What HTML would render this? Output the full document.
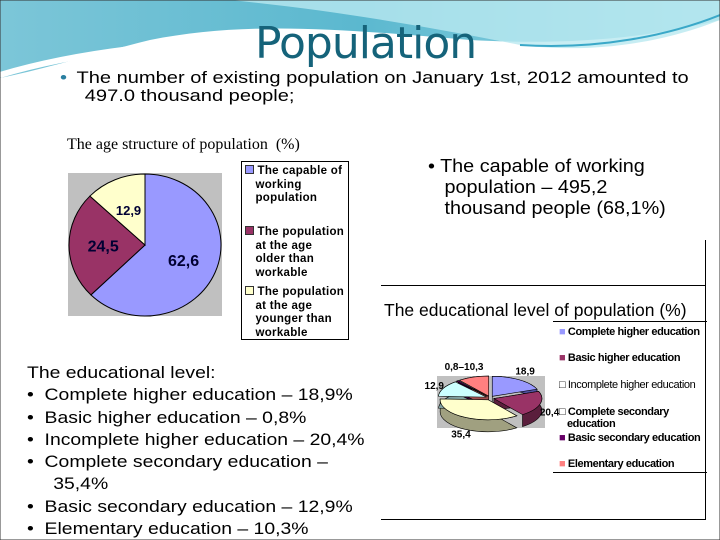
<!DOCTYPE html>
<html><head><meta charset="utf-8"><style>
body{margin:0;width:720px;height:540px;overflow:hidden;background:#fff;font-family:"Liberation Sans",Arial,sans-serif;position:relative}
.abs{position:absolute}
.lst{font-size:17px;line-height:22.3px;color:#000;transform-origin:0 0;transform:scaleX(1.14)}
</style></head><body>
<svg class="abs" style="left:0;top:0" width="720" height="540">
<defs><linearGradient id="hg" x1="0" x2="1" y1="0" y2="0"><stop offset="0" stop-color="#7cc6d8"/><stop offset="0.5" stop-color="#5bb8cf"/><stop offset="1" stop-color="#9ad9e6"/></linearGradient></defs>
<path d="M0 0H720V20C640 40 560 45 470 40C350 30 250 20 150 40C90 55 40 70 0 78Z" fill="url(#hg)"/>
<path d="M230 0C330 10 420 25 520 45C600 55 670 40 720 20V0Z" fill="#b9e8f0" opacity="0.8"/>
<path d="M0 75C100 45 250 30 480 45" stroke="#fff" stroke-width="6" fill="none"/>
<path d="M520 45C600 50 670 35 720 15" stroke="#3aa8c8" stroke-width="2" fill="none"/>
<rect x="0" y="0" width="720" height="540" fill="none" stroke="#333" stroke-width="1"/>
</svg>
<div class="abs" style="left:255px;top:18px;font-size:44px;color:#15637a;font-family:'DejaVu Sans','Liberation Sans',sans-serif;letter-spacing:-1px">Population</div>
<div class="abs" style="left:60px;top:69px;font-size:17px;line-height:18px;width:560px;white-space:nowrap;transform-origin:0 0;transform:scaleX(1.18)"><span style="color:#2a7fa0;margin-right:8px">•</span>The number of existing population on January 1st, 2012 amounted to<br><span style="padding-left:21px">497.0 thousand people;</span></div>

<div class="abs" style="left:67px;top:136px;font-family:'Liberation Serif',serif;font-size:16px">The age structure of population&nbsp; (%)</div>
<svg class="abs" id="age" style="left:0;top:0" width="720" height="540"></svg>
<div class="abs" style="left:241px;top:161px;width:108px;height:179px;border:1px solid #000;font-size:11.5px;font-weight:bold;line-height:13.5px;padding:3px 0 0 3px;box-sizing:border-box;letter-spacing:0.3px;white-space:nowrap">
<div style="height:61px"><span style="display:inline-block;width:7px;height:7px;background:#9999ff;border:1px solid #333"></span> The capable of<br>&nbsp;&nbsp;&nbsp;working<br>&nbsp;&nbsp;&nbsp;population</div>
<div style="height:60px"><span style="display:inline-block;width:7px;height:7px;background:#993366;border:1px solid #333"></span> The population<br>&nbsp;&nbsp;&nbsp;at the age<br>&nbsp;&nbsp;&nbsp;older than<br>&nbsp;&nbsp;&nbsp;workable</div>
<div><span style="display:inline-block;width:7px;height:7px;background:#ffffcc;border:1px solid #333"></span> The population<br>&nbsp;&nbsp;&nbsp;at the age<br>&nbsp;&nbsp;&nbsp;younger than<br>&nbsp;&nbsp;&nbsp;workable</div>
</div>

<div class="abs" style="left:428px;top:156px;font-size:18px;line-height:21px;white-space:nowrap;transform-origin:0 0;transform:scaleX(1.1)">• The capable of working<br>&nbsp;&nbsp;&nbsp;population – 495,2<br>&nbsp;&nbsp;&nbsp;thousand people (68,1%)</div>

<div class="abs" style="left:381px;top:285px;width:324px;height:233px;border-right:1px solid #000;border-bottom:1px solid #000;border-top:1px solid #000"></div>
<div class="abs" style="left:705px;top:240px;width:1px;height:46px;background:#000"></div>
<div class="abs" style="left:384px;top:300px;font-size:17.5px;white-space:nowrap">The educational level of population (%)</div>
<svg class="abs" id="edu" style="left:0;top:0" width="720" height="540"></svg>
<div class="abs" style="left:553px;top:321px;width:154px;height:150px;border-top:1px solid #000;border-bottom:1px solid #000;font-size:11px;line-height:12px;letter-spacing:-0.4px;font-weight:bold;white-space:nowrap">
<div class="abs" style="top:4px;left:6px"><span style="color:#9999ff">■</span> Complete higher education</div>
<div class="abs" style="top:30px;left:6px"><span style="color:#993366">■</span> Basic higher education</div>
<div class="abs" style="top:57px;left:6px;font-weight:normal">□ Incomplete higher education</div>
<div class="abs" style="top:84px;left:6px">□ Complete secondary<br>&nbsp;&nbsp;&nbsp;education</div>
<div class="abs" style="top:110px;left:6px"><span style="color:#660066">■</span> Basic secondary education</div>
<div class="abs" style="top:136px;left:6px"><span style="color:#ff8080">■</span> Elementary education</div>
</div>

<div class="abs lst" style="left:27px;top:362px;width:340px;white-space:nowrap">
The educational level:<br>
•&nbsp; Complete higher education – 18,9%<br>
•&nbsp; Basic higher education – 0,8%<br>
•&nbsp; Incomplete higher education – 20,4%<br>
•&nbsp; Complete secondary education –<br>
<span style="padding-left:23px">35,4%</span><br>
•&nbsp; Basic secondary education – 12,9%<br>
•&nbsp; Elementary education – 10,3%
</div>

<script>
const ageCategories=["Working","Older","Younger"];
const ageValues=[62.6,24.5,12.9];
const ageColors=["#9999ff","#993366","#ffffcc"];
const eduCategories=["Complete higher","Incomplete higher","Complete secondary","Basic secondary","Basic higher","Elementary"];
const eduValues=[18.9,20.4,35.4,12.9,0.8,10.3];
const eduColors=["#9999ff","#993366","#ffffcc","#ccffff","#660066","#ff8080"];
const eduSides=["#5050a0","#5a1e3c","#a0a080","#80a0a0","#330033","#a05050"];
const NS="http://www.w3.org/2000/svg";
function mk(p,t,a){const e=document.createElementNS(NS,t);for(const k in a)e.setAttribute(k,a[k]);p.appendChild(e);return e;}
function pt(cx,cy,rx,ry,f){const a=f*2*Math.PI;return [cx+rx*Math.sin(a),cy-ry*Math.cos(a)];}
const age=document.getElementById('age');
const bg=mk(age,'rect',{x:68,y:173,width:154,height:143,fill:'#c0c0c0'});


let tot=ageValues.reduce((a,b)=>a+b,0),acc=0;
const cx=145,cy=245,rx=76,ry=71;
ageValues.forEach((v,i)=>{
 const f0=acc/tot,f1=(acc+v)/tot;acc+=v;
 const p0=pt(cx,cy,rx,ry,f0),p1=pt(cx,cy,rx,ry,f1);
 const s=mk(age,'path',{d:`M${cx} ${cy}L${p0[0]} ${p0[1]}A${rx} ${ry} 0 ${f1-f0>0.5?1:0} 1 ${p1[0]} ${p1[1]}Z`,fill:ageColors[i],stroke:'#000','stroke-width':1});
 
 
 const m=pt(cx,cy,rx*0.55,ry*0.55,(f0+f1)/2);
 const t=mk(age,'text',{x:m[0],y:m[1]+6,'text-anchor':'middle','font-size':i==2?13:16,'font-weight':'bold',fill:'#000033','font-family':'Liberation Sans,sans-serif'});
 t.textContent=String(v).replace('.',',');
 
 
});
const edu=document.getElementById('edu');
const eb=mk(edu,'rect',{x:437,y:376,width:108,height:52,fill:'#c0c0c0'});


const ex=490,ey=398,erx=48,ery=20,dep=12;
tot=eduValues.reduce((a,b)=>a+b,0);acc=0;
const slices=eduValues.map((v,i)=>{const f0=acc/tot,f1=(acc+v)/tot;acc+=v;return {i,v,f0,f1};});
slices.forEach(s=>{
 const mid=(s.f0+s.f1)/2,off=pt(0,0,4,2,mid);
 const c0=ex+off[0],c1=ey+off[1];
 const p0=pt(c0,c1,erx,ery,s.f0),p1=pt(c0,c1,erx,ery,s.f1);
 const lg=s.f1-s.f0>0.5?1:0;
 const side=mk(edu,'path',{d:`M${c0} ${c1+dep}L${p0[0]} ${p0[1]+dep}A${erx} ${ery} 0 ${lg} 1 ${p1[0]} ${p1[1]+dep}L${p1[0]} ${p1[1]}A${erx} ${ery} 0 ${lg} 0 ${p0[0]} ${p0[1]}L${c0} ${c1}Z`,fill:eduSides[s.i],stroke:'#000','stroke-width':0.6});
 
 
});
slices.forEach(s=>{
 const mid=(s.f0+s.f1)/2,off=pt(0,0,4,2,mid);
 const c0=ex+off[0],c1=ey+off[1];
 const p0=pt(c0,c1,erx,ery,s.f0),p1=pt(c0,c1,erx,ery,s.f1);
 const top=mk(edu,'path',{d:`M${c0} ${c1}L${p0[0]} ${p0[1]}A${erx} ${ery} 0 ${s.f1-s.f0>0.5?1:0} 1 ${p1[0]} ${p1[1]}Z`,fill:eduColors[s.i],stroke:'#000','stroke-width':0.6});
 
 
 const lp=pt(ex,ey+4,erx+14,ery+17,mid);
 if(s.i!==4){
 const t=mk(edu,'text',{x:s.i===5?lp[0]-6:lp[0],y:lp[1]+3,'text-anchor':'middle','font-size':10,'font-weight':'bold','font-family':'Liberation Sans,sans-serif'});
 t.textContent=(s.i===5?'0,8–':'')+String(s.v).replace('.',',');
 
 
 }
});
</script>
</body></html>
